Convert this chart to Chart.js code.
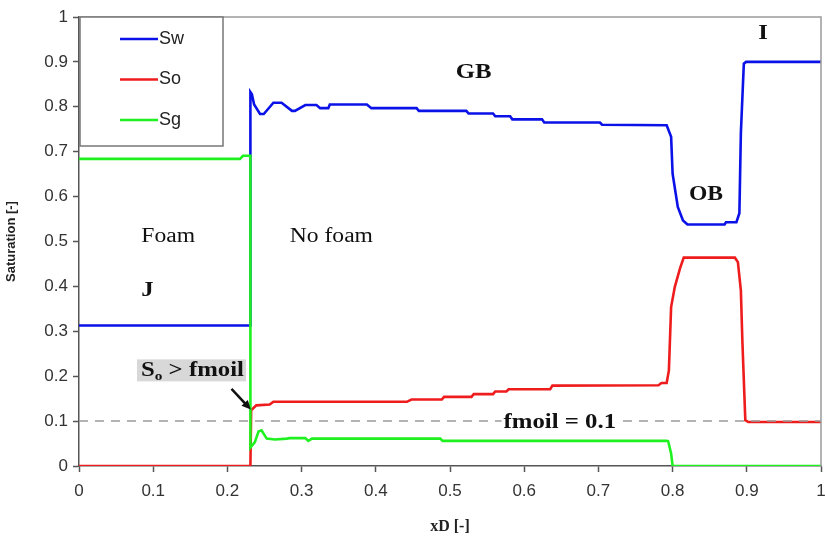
<!DOCTYPE html>
<html lang="en">
<head>
<meta charset="UTF-8">
<title>Saturation profile</title>
<script src="https://cdn.jsdelivr.net/npm/chart.js"></script>
<style>
    html, body { margin: 0; padding: 0; background: #fff; }
    #wrap { width: 825px; height: 539px; position: relative; }
</style>
</head>
<body>
<div id="wrap"><canvas id="satChart"></canvas></div>
<script>
// axis ticks
const tickValues = [0, 0.1, 0.2, 0.3, 0.4, 0.5, 0.6, 0.7, 0.8, 0.9, 1];
const tickLabels = ['0', '0.1', '0.2', '0.3', '0.4', '0.5', '0.6', '0.7', '0.8', '0.9', '1'];

// water saturation
const swX = [0, 0.231, 0.231, 0.233, 0.236, 0.244, 0.249, 0.262, 0.273, 0.287, 0.291, 0.305, 0.320, 0.325, 0.336, 0.338,
             0.388, 0.394, 0.455, 0.458, 0.522, 0.525, 0.558, 0.561, 0.581, 0.584, 0.624, 0.627, 0.702, 0.705,
             0.792, 0.798, 0.800, 0.807, 0.814, 0.820, 0.870, 0.872, 0.886, 0.890, 0.892, 0.896, 0.899, 1];
const swY = [0.313, 0.313, 0.833, 0.828, 0.805, 0.784, 0.784, 0.809, 0.809, 0.791, 0.791, 0.804, 0.804, 0.797, 0.797, 0.805,
             0.805, 0.797, 0.797, 0.791, 0.791, 0.785, 0.785, 0.779, 0.779, 0.772, 0.772, 0.765, 0.765, 0.760,
             0.759, 0.733, 0.651, 0.577, 0.547, 0.538, 0.538, 0.543, 0.543, 0.563, 0.741, 0.896, 0.900, 0.900];

// oil saturation
const soX = [0, 0.231, 0.232, 0.239, 0.257, 0.262, 0.442, 0.448, 0.489, 0.492, 0.529, 0.532, 0.558, 0.561, 0.576, 0.579,
             0.635, 0.638, 0.781, 0.785, 0.792, 0.795, 0.798, 0.803, 0.810, 0.815, 0.884, 0.888, 0.892, 0.894, 0.898, 0.902, 1];
const soY = [0, 0, 0.124, 0.135, 0.137, 0.143, 0.143, 0.148, 0.148, 0.154, 0.154, 0.160, 0.160, 0.166, 0.166, 0.171,
             0.171, 0.179, 0.180, 0.185, 0.185, 0.213, 0.354, 0.399, 0.440, 0.464, 0.464, 0.454, 0.391, 0.280, 0.102, 0.098, 0.098];

// gas saturation
const sgX = [0, 0.217, 0.221, 0.231, 0.231, 0.237, 0.242, 0.246, 0.253, 0.264, 0.280, 0.284, 0.305, 0.309, 0.314,
             0.487, 0.490, 0.792, 0.794, 0.798, 0.800, 1];
const sgY = [0.684, 0.684, 0.691, 0.691, 0.041, 0.053, 0.077, 0.0795, 0.061, 0.059, 0.061, 0.062, 0.062, 0.056, 0.061,
             0.061, 0.056, 0.056, 0.055, 0.028, 0, 0];

const fmoilX = [0, 1];
const fmoilY = [0.1, 0.1];

const seriesNames = ['Sw', 'So', 'Sg'];
const seriesColors = ['#0b12e8', '#ee1c1c', '#1ff01f'];

function pts(xs, ys) {
    return xs.map((x, i) => ({ x: x, y: ys[i] }));
}

const serif = "'Liberation Serif', 'Times New Roman', serif";
const sans = "'Liberation Sans', Arial, sans-serif";
const stretch = 1.18; // the source picture is a bit wider than tall

// draws text squeezed/stretched horizontally, returns drawn width
function wideText(c, txt, px, py, align) {
    const w = c.measureText(txt).width * stretch;
    let left = px;
    if (align === 'center') left = px - w / 2;
    c.save();
    c.textAlign = 'left';
    c.translate(left, py);
    c.scale(stretch, 1);
    c.fillText(txt, 0, 0);
    c.restore();
    return w;
}

// legend box, chart border, text labels and arrow
const decorPlugin = {
    id: 'decor',
    afterDatasetsDraw(chart) {
        const { ctx, chartArea: a, scales: { x, y } } = chart;
        ctx.save();

        // top and right frame
        ctx.strokeStyle = '#9a9a9a';
        ctx.lineWidth = 1.5;
        ctx.beginPath();
        ctx.moveTo(a.left, a.top);
        ctx.lineTo(a.right, a.top);
        ctx.lineTo(a.right, a.bottom);
        ctx.stroke();

        // legend
        const lx = a.left + 1, ly = a.top, lw = 143, lh = 129;
        ctx.fillStyle = '#fff';
        ctx.fillRect(lx, ly, lw, lh);
        ctx.strokeStyle = '#777';
        ctx.lineWidth = 1.5;
        ctx.strokeRect(lx, ly, lw, lh);
        ctx.font = '18px ' + sans;
        ctx.textBaseline = 'middle';
        ctx.textAlign = 'left';
        seriesNames.forEach((n, i) => {
            const yy = ly + 22 + i * 40.5;
            ctx.strokeStyle = seriesColors[i];
            ctx.lineWidth = 2.5;
            ctx.beginPath();
            ctx.moveTo(lx + 40, yy);
            ctx.lineTo(lx + 78, yy);
            ctx.stroke();
            ctx.fillStyle = '#222';
            ctx.fillText(n, lx + 79, yy);
        });

        // region labels
        ctx.fillStyle = '#111';
        ctx.textBaseline = 'middle';
        ctx.font = 'bold 21px ' + serif;
        wideText(ctx, 'GB', x.getPixelForValue(0.532), y.getPixelForValue(0.877), 'center');
        wideText(ctx, 'I', x.getPixelForValue(0.922), y.getPixelForValue(0.963), 'center');
        ctx.font = 'bold 20px ' + serif;
        wideText(ctx, 'OB', x.getPixelForValue(0.845), y.getPixelForValue(0.603), 'center');
        ctx.font = '20px ' + serif;
        wideText(ctx, 'Foam', x.getPixelForValue(0.084), y.getPixelForValue(0.51), 'left');
        wideText(ctx, 'No foam', x.getPixelForValue(0.284), y.getPixelForValue(0.51), 'left');
        ctx.font = 'bold 21px ' + serif;
        wideText(ctx, 'J', x.getPixelForValue(0.084), y.getPixelForValue(0.391), 'left');

        // So > fmoil box
        const bx = x.getPixelForValue(0.0835), by = y.getPixelForValue(0.213);
        ctx.font = 'bold 21px ' + serif;
        const wS = ctx.measureText('S').width * stretch;
        const rest = ' > fmoil';
        const wR = ctx.measureText(rest).width * stretch;
        ctx.font = 'bold 13px ' + serif;
        const wO = ctx.measureText('o').width * stretch;
        ctx.fillStyle = '#d8d8d8';
        ctx.fillRect(bx - 4, by - 11, wS + wO + wR + 6, 22);
        ctx.fillStyle = '#111';
        ctx.font = 'bold 21px ' + serif;
        wideText(ctx, 'S', bx, by, 'left');
        ctx.font = 'bold 13px ' + serif;
        wideText(ctx, 'o', bx + wS, by + 6, 'left');
        ctx.font = 'bold 21px ' + serif;
        wideText(ctx, rest, bx + wS + wO, by, 'left');

        // arrow
        const x1 = x.getPixelForValue(0.2055), y1 = y.getPixelForValue(0.172);
        const x2 = x.getPixelForValue(0.2315), y2 = y.getPixelForValue(0.126);
        const ang = Math.atan2(y2 - y1, x2 - x1);
        ctx.strokeStyle = '#111';
        ctx.lineWidth = 2.5;
        ctx.beginPath();
        ctx.moveTo(x1, y1);
        ctx.lineTo(x2 - 6 * Math.cos(ang), y2 - 6 * Math.sin(ang));
        ctx.stroke();
        ctx.fillStyle = '#111';
        ctx.beginPath();
        ctx.moveTo(x2, y2);
        ctx.lineTo(x2 - 10 * Math.cos(ang - 0.45), y2 - 10 * Math.sin(ang - 0.45));
        ctx.lineTo(x2 - 10 * Math.cos(ang + 0.45), y2 - 10 * Math.sin(ang + 0.45));
        ctx.closePath();
        ctx.fill();

        // fmoil label over the dashed line
        ctx.font = 'bold 21px ' + serif;
        const fx = x.getPixelForValue(0.648), fy = y.getPixelForValue(0.1);
        const fw = ctx.measureText('fmoil = 0.1').width * stretch;
        ctx.fillStyle = '#fff';
        ctx.fillRect(fx - fw / 2 - 2, fy - 4, fw + 4, 8);
        ctx.fillStyle = '#111';
        wideText(ctx, 'fmoil = 0.1', fx, fy + 1, 'center');

        ctx.restore();
    }
};

const ctx = document.getElementById('satChart').getContext('2d');
const satChart = new Chart(ctx, {
    type: 'line',
    data: {
        datasets: [
            { label: 'Sg', data: pts(sgX, sgY), borderColor: seriesColors[2], order: 1 },
            { label: 'fmoil', data: pts(fmoilX, fmoilY), borderColor: '#9a9a9a', borderWidth: 1.5, borderDash: [9, 7], order: 2 },
            { label: 'So', data: pts(soX, soY), borderColor: seriesColors[1], order: 3 },
            { label: 'Sw', data: pts(swX, swY), borderColor: seriesColors[0], order: 4 }
        ]
    },
    options: {
        responsive: true,
        maintainAspectRatio: false,
        animation: false,
        parsing: false,
        layout: { padding: { top: 17, right: 4, left: 0, bottom: 0 } },
        elements: {
            line: { borderWidth: 2.6, tension: 0, fill: false },
            point: { radius: 0, hoverRadius: 0 }
        },
        plugins: { legend: { display: false }, tooltip: { enabled: false } },
        scales: {
            x: {
                type: 'linear',
                min: 0, max: 1,
                afterBuildTicks: s => { s.ticks = tickValues.map(v => ({ value: v })); },
                afterFit: s => { s.height = 73; s.paddingLeft = 0; s.paddingRight = 0; },
                ticks: {
                    callback: (v, i) => tickLabels[i],
                    font: { size: 17, family: sans },
                    color: '#333',
                    padding: 9,
                    maxRotation: 0
                },
                grid: { drawOnChartArea: false, drawTicks: true, tickLength: 6, color: '#555', tickWidth: 1.5 },
                border: { color: '#555', width: 1.5 },
                title: {
                    display: true,
                    text: 'xD [-]',
                    font: { size: 16, weight: 'bold', family: serif },
                    color: '#222',
                    padding: { top: 0, bottom: 3 }
                }
            },
            y: {
                type: 'linear',
                min: 0, max: 1,
                afterBuildTicks: s => { s.ticks = tickValues.map(v => ({ value: v })); },
                afterFit: s => { s.width = 79; s.paddingTop = 0; s.paddingBottom = 0; },
                ticks: {
                    callback: (v, i) => tickLabels[i],
                    font: { size: 17, family: sans },
                    color: '#333',
                    padding: 5
                },
                grid: { drawOnChartArea: false, drawTicks: true, tickLength: 6, color: '#555', tickWidth: 1.5 },
                border: { color: '#555', width: 1.5 },
                title: {
                    display: true,
                    text: 'Saturation [-]',
                    font: { size: 13, weight: 'bold', family: sans },
                    color: '#222',
                    padding: { top: 4, bottom: 0 }
                }
            }
        }
    },
    plugins: [decorPlugin]
});
</script>
</body>
</html>
